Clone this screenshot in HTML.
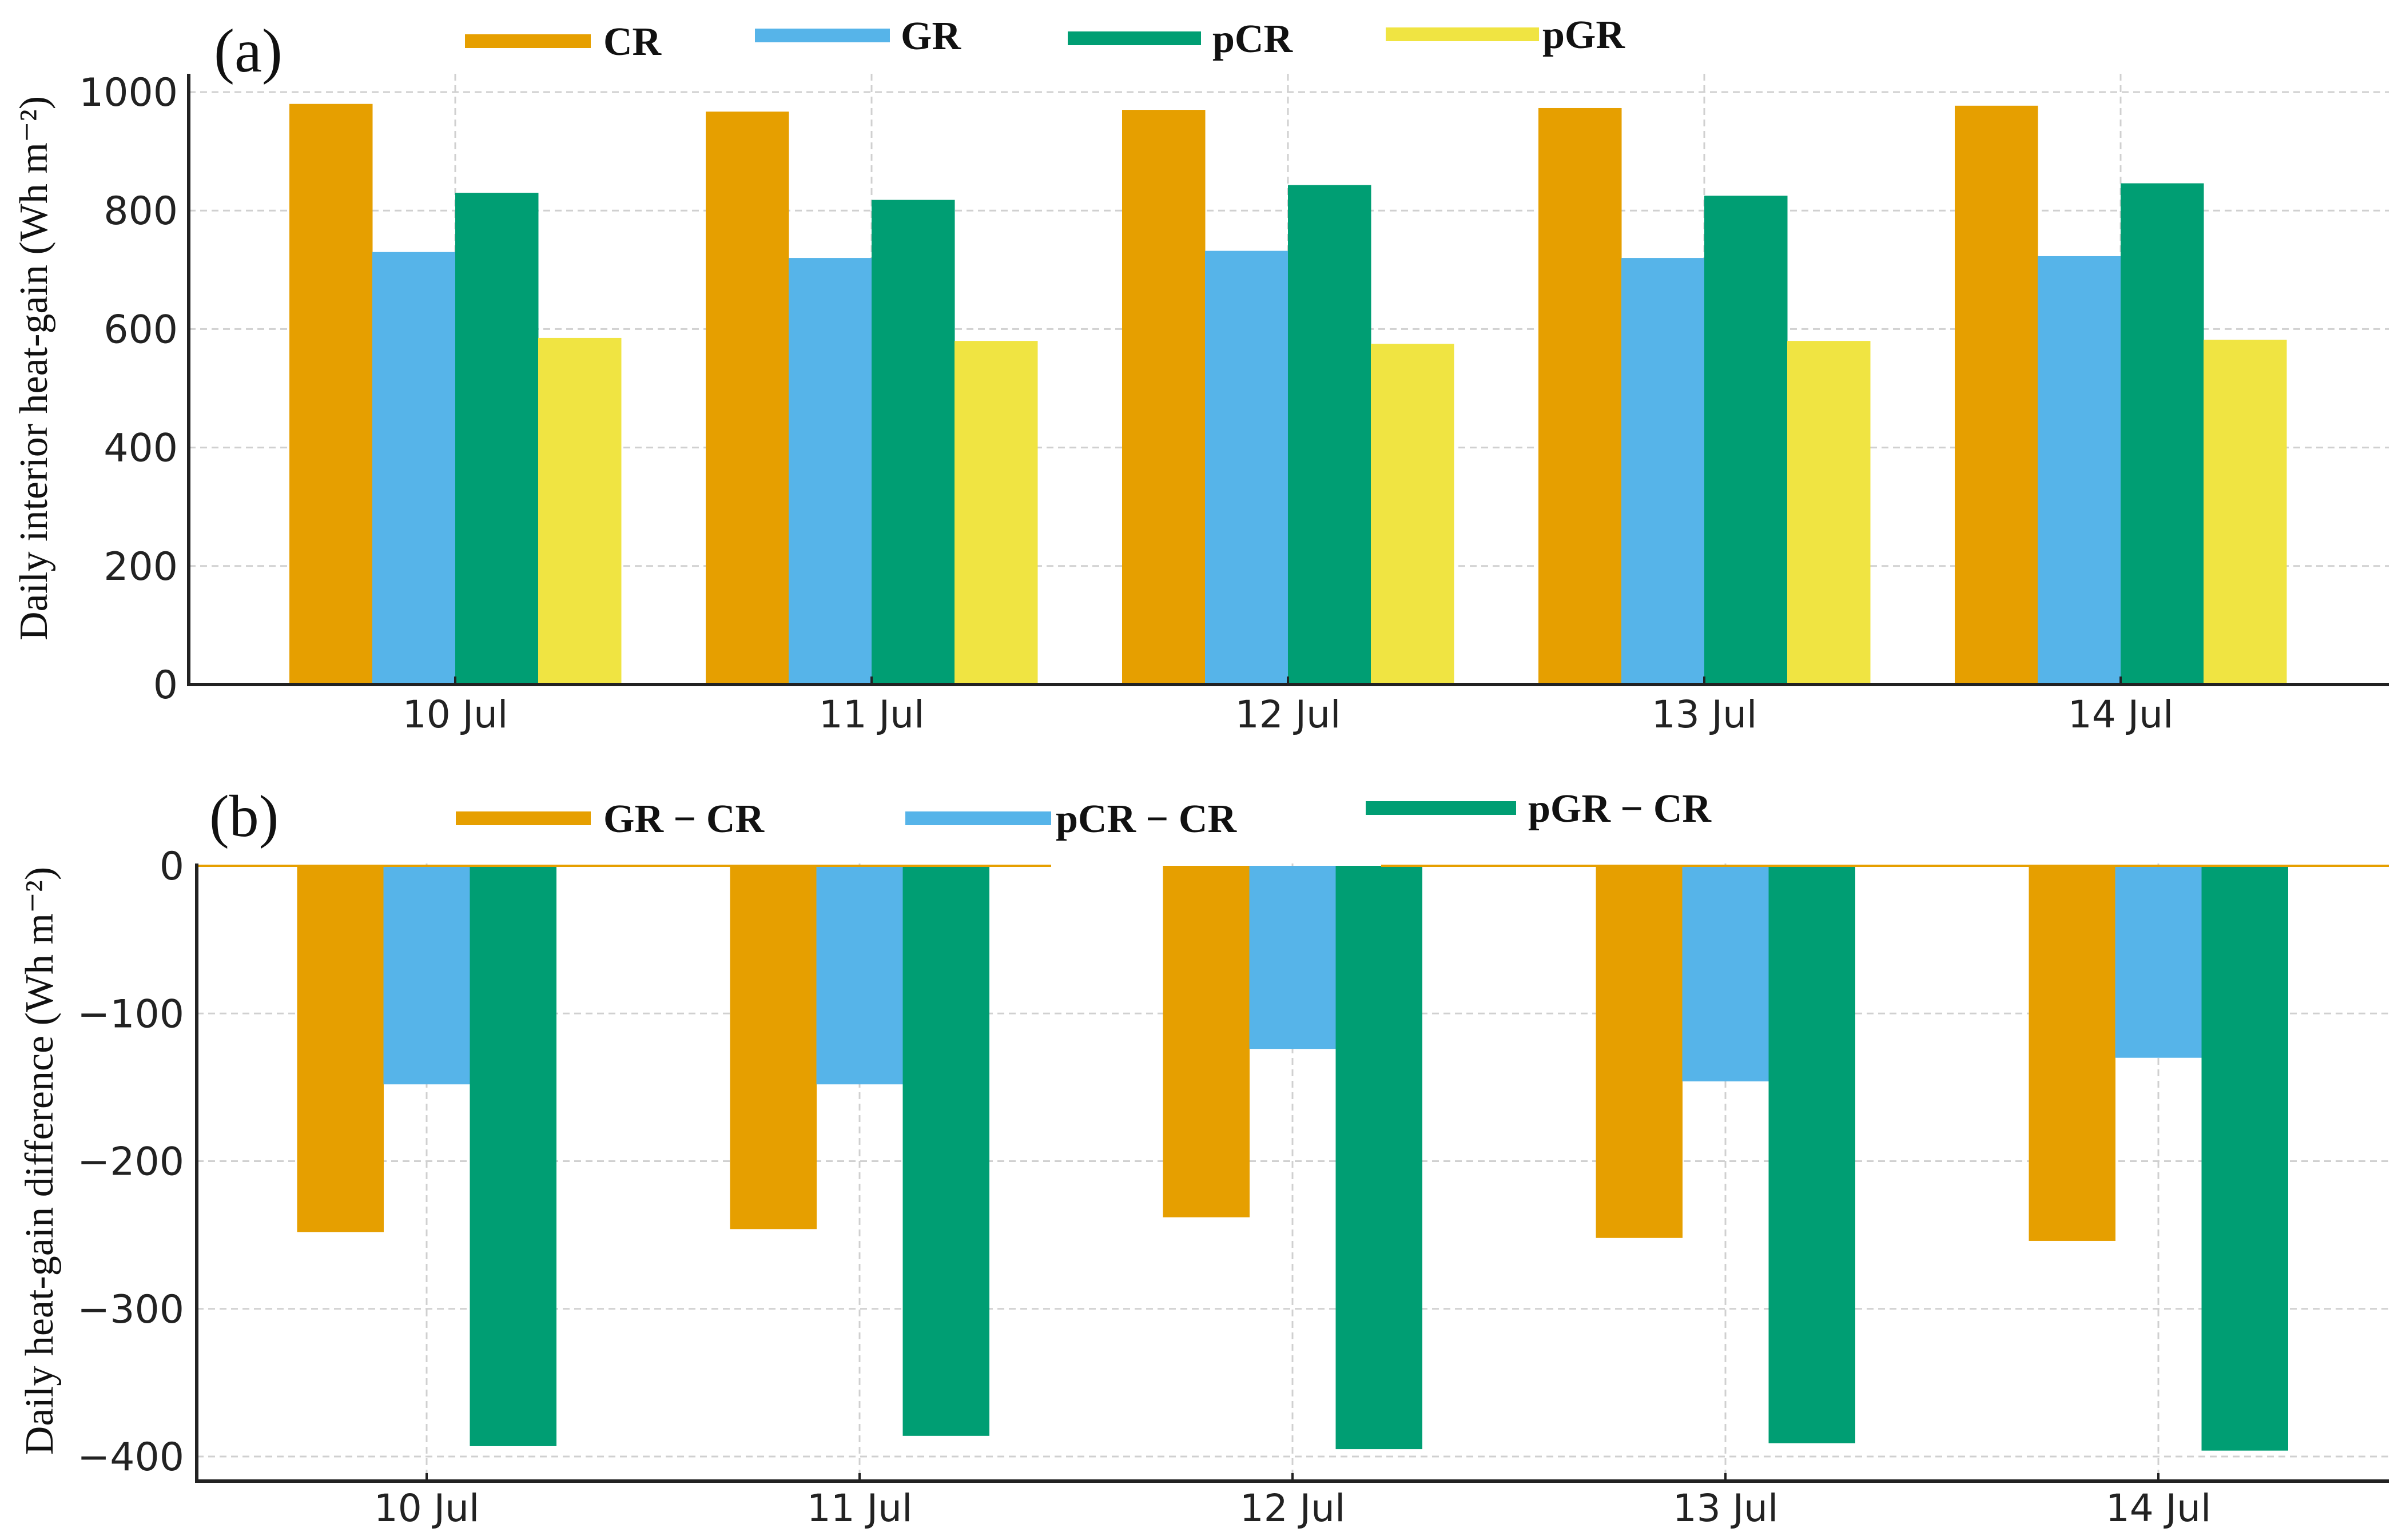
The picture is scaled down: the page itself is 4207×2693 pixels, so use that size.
<!DOCTYPE html>
<html><head><meta charset="utf-8"><style>html,body{margin:0;padding:0;background:#fff}svg{display:block}</style></head>
<body>
<svg id="chart" xmlns="http://www.w3.org/2000/svg" width="4207" height="2693" viewBox="0 0 4207 2693">
<rect width="4207" height="2693" fill="#fff"/>
<g id="pa"></g>
<g id="pb"></g>
</svg>
<script>
const days = ["10 Jul","11 Jul","12 Jul","13 Jul","14 Jul"];
const seriesA = ["CR","GR","pCR","pGR"];
const crVals = [980,967,970,973,977];
const grVals = [730,720,732,720,723];
const pcrVals = [830,818,843,825,846];
const pgrVals = [585,580,575,580,582];
const ticksA = [0,200,400,600,800,1000];
const seriesB = ["GR − CR","pCR − CR","pGR − CR"];
const grDiff = [-248,-246,-238,-252,-254];
const pcrDiff = [-148,-148,-124,-146,-130];
const pgrDiff = [-393,-386,-395,-391,-396];
const ticksB = [0,-100,-200,-300,-400];

const NS="http://www.w3.org/2000/svg";
const colors=["#E69F00","#56B4E9","#009E73","#F0E442"];
function el(parent,tag,attrs,text){const e=document.createElementNS(NS,tag);for(const k in attrs)e.setAttribute(k,attrs[k]);if(text!==undefined)e.textContent=text;parent.appendChild(e);return e;}

// Panel A
(function(){
  const g=document.getElementById('pa');
  const x0=330,x1=4177,yb=1197,ytop=129;
  const y=v=>1197-v*1.036;
  const xc=i=>796+i*728;
  const bw=145;
  ticksA.forEach(t=>{
    if(t>0){const l=el(g,'line',{x1:x0,x2:x1,y1:y(t),y2:y(t),stroke:'#d0d0d0','stroke-width':3,'stroke-dasharray':'12,8'});
    
    }
    const tx=el(g,'text',{x:311,y:y(t)+24,'text-anchor':'end','font-family':'DejaVu Sans, sans-serif','font-size':68,fill:'#222'},t);
    
    
  });
  days.forEach((d,i)=>{
    const l=el(g,'line',{x1:xc(i),x2:xc(i),y1:ytop,y2:yb,stroke:'#d0d0d0','stroke-width':3,'stroke-dasharray':'12,8'});
    
    
  });
  const vals=[crVals,grVals,pcrVals,pgrVals];
  vals.forEach((arr,s)=>arr.forEach((v,i)=>{
    const left=xc(i)-2*bw+s*bw;
    const r=el(g,'rect',{x:left,y:y(v),width:bw+0.5,height:yb-y(v),fill:colors[s]});
    
    
  }));
  days.forEach((d,i)=>{
    const tk=el(g,'line',{x1:xc(i),x2:xc(i),y1:yb,y2:yb-14,stroke:'#222','stroke-width':4});
    
    
    const t=el(g,'text',{x:xc(i),y:1272,'text-anchor':'middle','font-family':'DejaVu Sans, sans-serif','font-size':66,fill:'#222'},d);
    
    
  });
  const ax=el(g,'path',{d:`M${x0} ${ytop} V${yb} H${x1}`,fill:'none',stroke:'#222','stroke-width':6});
  
  
  const yt=el(g,'text',{x:0,y:0,transform:'translate(82 644) rotate(-90)','text-anchor':'middle','font-family':'Liberation Serif, serif','font-size':70,fill:'#111'},'Daily interior heat-gain (Wh m⁻²)');
  
  
  const lab=el(g,'text',{x:374,y:125,'font-family':'Liberation Serif, serif','font-size':108,fill:'#111'},'(a)');
  
  
  const leg=[[813,1033,72,1055],[1320,1556,62,1575],[1867,2100,67,2120],[2423,2691,60,2697]];
  leg.forEach((p,s)=>{
    const ln=el(g,'rect',{x:p[0],y:p[2]-12,width:p[1]-p[0],height:24,fill:colors[s]});
    
    
    const t=el(g,'text',{x:p[3],y:p[2]+24,'font-family':'Liberation Serif, serif','font-weight':'bold','font-size':70,fill:'#111'},seriesA[s]);
    
    
  });
})();

// Panel B
(function(){
  const g=document.getElementById('pb');
  const x0=344,x1=4177,yb=2590,ytop=1510;
  const Y=v=>1514+(-v)*2.5825;
  const xc=i=>746+i*757;
  const bw=151;
  ticksB.forEach(t=>{
    if(t<0){const l=el(g,'line',{x1:x0,x2:x1,y1:Y(t),y2:Y(t),stroke:'#d0d0d0','stroke-width':3,'stroke-dasharray':'12,8'});
    
    }
    const tx=el(g,'text',{x:322,y:Y(t)+24,'text-anchor':'end','font-family':'DejaVu Sans, sans-serif','font-size':68,fill:'#222'},t===0?'0':'−'+(-t));
    
    
  });
  days.forEach((d,i)=>{
    const l=el(g,'line',{x1:xc(i),x2:xc(i),y1:ytop,y2:yb,stroke:'#d0d0d0','stroke-width':3,'stroke-dasharray':'12,8'});
    
    
  });
  const vals=[grDiff,pcrDiff,pgrDiff];
  vals.forEach((arr,s)=>arr.forEach((v,i)=>{
    const left=xc(i)-1.5*bw+s*bw;
    const r=el(g,'rect',{x:left,y:Y(0),width:bw+0.5,height:Y(v)-Y(0),fill:colors[s]});
    
    
  }));
  const z1=el(g,'line',{x1:x0,x2:1838,y1:Y(0),y2:Y(0),stroke:'#E69F00','stroke-width':4});
  
  
  const z2=el(g,'line',{x1:2415,x2:x1,y1:Y(0),y2:Y(0),stroke:'#E69F00','stroke-width':4});
  
  
  days.forEach((d,i)=>{
    const tk=el(g,'line',{x1:xc(i),x2:xc(i),y1:yb,y2:yb-14,stroke:'#222','stroke-width':4});
    
    
    const t=el(g,'text',{x:xc(i),y:2660,'text-anchor':'middle','font-family':'DejaVu Sans, sans-serif','font-size':66,fill:'#222'},d);
    
    
  });
  const ax=el(g,'path',{d:`M${x0} ${ytop} V${yb} H${x1}`,fill:'none',stroke:'#222','stroke-width':6});
  
  
  const yt=el(g,'text',{x:0,y:0,transform:'translate(92 2030) rotate(-90)','text-anchor':'middle','font-family':'Liberation Serif, serif','font-size':70,fill:'#111'},'Daily heat-gain difference (Wh m⁻²)');
  
  
  const lab=el(g,'text',{x:366,y:1462,'font-family':'Liberation Serif, serif','font-size':104,fill:'#111'},'(b)');
  
  
  const leg=[[797,1033,1431,1055],[1583,1838,1431,1846],[2388,2651,1413,2672]];
  leg.forEach((p,s)=>{
    const ln=el(g,'rect',{x:p[0],y:p[2]-12,width:p[1]-p[0],height:24,fill:colors[s]});
    
    
    const t=el(g,'text',{x:p[3],y:p[2]+24,'font-family':'Liberation Serif, serif','font-weight':'bold','font-size':70,fill:'#111'},seriesB[s]);
    
    
  });
})();
</script>
</body></html>
